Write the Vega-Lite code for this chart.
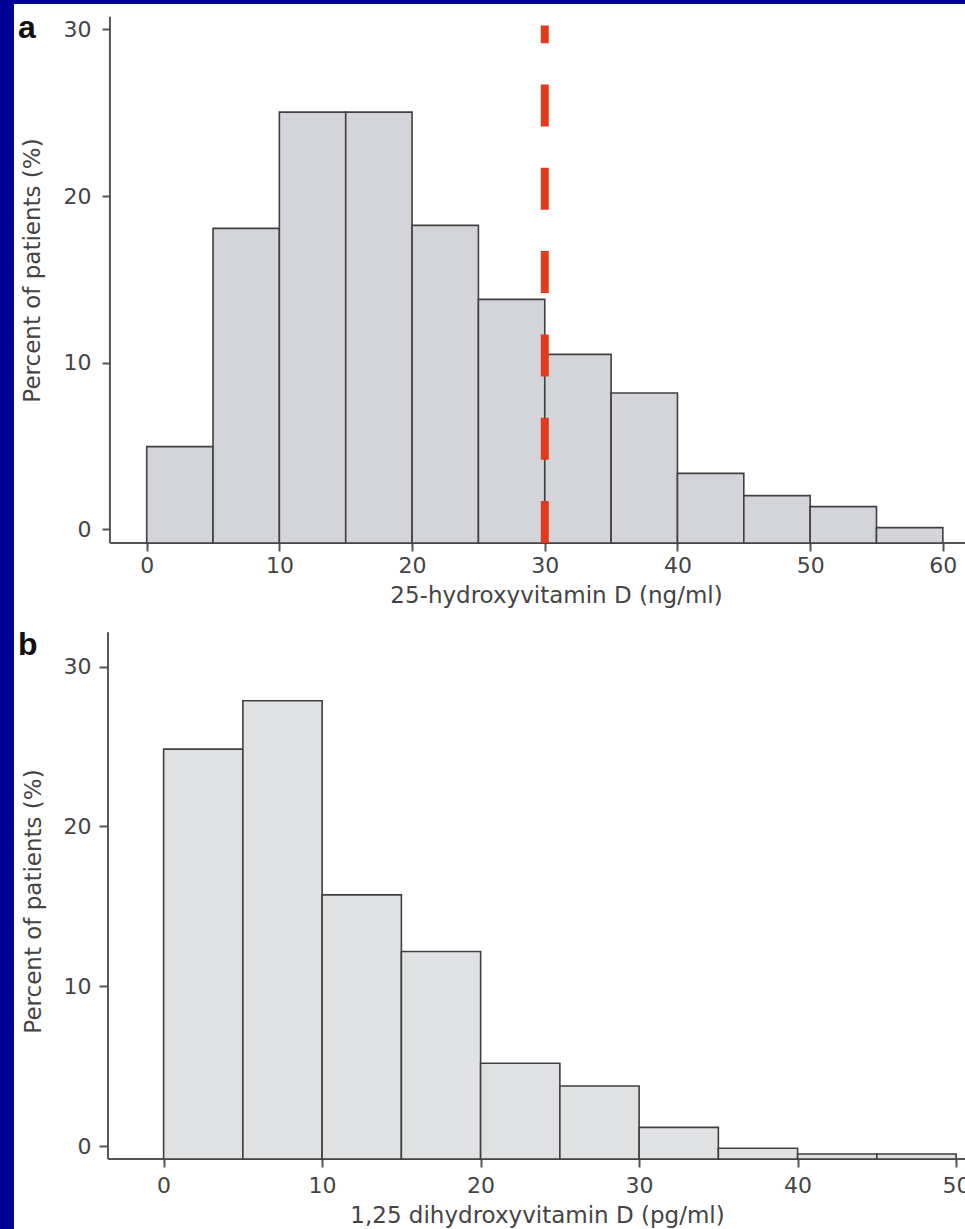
{
  "$schema": "https://vega.github.io/schema/vega-lite/v6.json",
  "background": "#000099",
  "padding": {"left": 14, "top": 4, "right": 0, "bottom": 0},
  "spacing": 0,
  "config": {
    "view": {"stroke": null, "fill": "white"},
    "font": "DejaVu Sans",
    "axis": {
      "grid": false,
      "domain": false,
      "tickColor": "#555555",
      "tickWidth": 2,
      "labelFont": "DejaVu Sans",
      "labelFontSize": 22,
      "labelColor": "#444444",
      "labelFlush": false,
      "labelOverlap": false,
      "titleFont": "DejaVu Sans",
      "titleFontSize": 23,
      "titleFontWeight": "normal",
      "titleColor": "#444444",
      "titleAlign": "center",
      "titleBaseline": "alphabetic"
    }
  },
  "datasets": {
    "a": [
      {"bin_start": 0, "bin_end": 5, "percent": 4.96},
      {"bin_start": 5, "bin_end": 10, "percent": 18.06},
      {"bin_start": 10, "bin_end": 15, "percent": 25.03},
      {"bin_start": 15, "bin_end": 20, "percent": 25.03},
      {"bin_start": 20, "bin_end": 25, "percent": 18.24},
      {"bin_start": 25, "bin_end": 30, "percent": 13.8},
      {"bin_start": 30, "bin_end": 35, "percent": 10.5},
      {"bin_start": 35, "bin_end": 40, "percent": 8.18},
      {"bin_start": 40, "bin_end": 45, "percent": 3.36},
      {"bin_start": 45, "bin_end": 50, "percent": 2.02},
      {"bin_start": 50, "bin_end": 55, "percent": 1.36},
      {"bin_start": 55, "bin_end": 60, "percent": 0.1}
    ],
    "b": [
      {"bin_start": 0, "bin_end": 5, "percent": 24.84},
      {"bin_start": 5, "bin_end": 10, "percent": 27.86},
      {"bin_start": 10, "bin_end": 15, "percent": 15.72},
      {"bin_start": 15, "bin_end": 20, "percent": 12.17},
      {"bin_start": 20, "bin_end": 25, "percent": 5.18},
      {"bin_start": 25, "bin_end": 30, "percent": 3.76},
      {"bin_start": 30, "bin_end": 35, "percent": 1.17},
      {"bin_start": 35, "bin_end": 40, "percent": -0.14},
      {"bin_start": 40, "bin_end": 45, "percent": -0.5},
      {"bin_start": 45, "bin_end": 50, "percent": -0.5}
    ]
  },
  "vconcat": [
    {
      "width": 951,
      "height": 611,
      "layer": [
        {
          "data": {"values": [{}]},
          "mark": {"type": "rule", "color": "#555555", "strokeWidth": 2},
          "encoding": {
            "x": {"datum": -2.77, "type": "quantitative"},
            "y": {"datum": -0.82, "type": "quantitative"},
            "y2": {"datum": 30.76}
          }
        },
        {
          "data": {"values": [{}]},
          "mark": {"type": "rule", "color": "#555555", "strokeWidth": 2},
          "encoding": {
            "x": {"datum": -2.77, "type": "quantitative"},
            "x2": {"datum": 61.67},
            "y": {"datum": -0.82, "type": "quantitative"}
          }
        },
        {
          "data": {"name": "a"},
          "mark": {"type": "bar", "fill": "#d4d5da", "stroke": "#404040", "strokeWidth": 1.6},
          "encoding": {
            "x": {
              "field": "bin_start",
              "type": "quantitative",
              "scale": {"domain": [-10.0, 61.67], "nice": false, "zero": false},
              "axis": {
                "values": [0, 10, 20, 30, 40, 50, 60],
                "offset": -72,
                "tickSize": 8,
                "labelPadding": 4,
                "title": "25-hydroxyvitamin D (ng/ml)",
                "titleX": 542,
                "titleY": 59
              }
            },
            "x2": {"field": "bin_end"},
            "y": {
              "field": "percent",
              "type": "quantitative",
              "scale": {"domain": [-5.14, 31.52], "nice": false, "zero": false},
              "axis": {
                "values": [0, 10, 20, 30],
                "offset": -96,
                "tickSize": 8,
                "labelPadding": 11,
                "title": "Percent of patients (%)",
                "titleAngle": 270,
                "titleX": -71,
                "titleY": 266
              }
            },
            "y2": {"datum": -0.82}
          }
        },
        {
          "data": {"values": [{}]},
          "mark": {"type": "rule", "color": "#e23a1f", "strokeWidth": 8, "strokeDash": [42, 41.3], "strokeCap": "butt"},
          "encoding": {
            "x": {"datum": 30, "type": "quantitative"},
            "y": {"datum": -0.82, "type": "quantitative"},
            "y2": {"datum": 30.23}
          }
        },
        {
          "data": {"values": [{}]},
          "mark": {"type": "text", "text": "a", "font": "Liberation Sans", "fontSize": 32, "fontWeight": "bold", "align": "left", "baseline": "alphabetic", "color": "#111111"},
          "encoding": {
            "x": {"datum": -9.7, "type": "quantitative"},
            "y": {"datum": 29.48, "type": "quantitative"}
          }
        }
      ]
    },
    {
      "width": 951,
      "height": 614,
      "layer": [
        {
          "data": {"values": [{}]},
          "mark": {"type": "rule", "color": "#555555", "strokeWidth": 2},
          "encoding": {
            "x": {"datum": -3.51, "type": "quantitative"},
            "y": {"datum": -0.81, "type": "quantitative"},
            "y2": {"datum": 32.15}
          }
        },
        {
          "data": {"values": [{}]},
          "mark": {"type": "rule", "color": "#555555", "strokeWidth": 2},
          "encoding": {
            "x": {"datum": -3.51, "type": "quantitative"},
            "x2": {"datum": 50.56},
            "y": {"datum": -0.81, "type": "quantitative"}
          }
        },
        {
          "data": {"name": "b"},
          "mark": {"type": "bar", "fill": "#e0e1e3", "stroke": "#404040", "strokeWidth": 1.6},
          "encoding": {
            "x": {
              "field": "bin_start",
              "type": "quantitative",
              "scale": {"domain": [-9.44, 50.56], "nice": false, "zero": false},
              "axis": {
                "values": [0, 10, 20, 30, 40, 50],
                "offset": -70,
                "tickSize": 8,
                "labelPadding": 8,
                "title": "1,25 dihydroxyvitamin D (pg/ml)",
                "titleX": 523,
                "titleY": 63
              }
            },
            "x2": {"field": "bin_end"},
            "y": {
              "field": "percent",
              "type": "quantitative",
              "scale": {"domain": [-5.19, 33.23], "nice": false, "zero": false},
              "axis": {
                "values": [0, 10, 20, 30],
                "offset": -94,
                "tickSize": 9,
                "labelPadding": 8,
                "title": "Percent of patients (%)",
                "titleAngle": 270,
                "titleX": -68,
                "titleY": 286
              }
            },
            "y2": {"datum": -0.81}
          }
        },
        {
          "data": {"values": [{}]},
          "mark": {"type": "text", "text": "b", "font": "Liberation Sans", "fontSize": 32, "fontWeight": "bold", "align": "left", "baseline": "alphabetic", "color": "#111111"},
          "encoding": {
            "x": {"datum": -9.19, "type": "quantitative"},
            "y": {"datum": 30.73, "type": "quantitative"}
          }
        }
      ]
    }
  ]
}
